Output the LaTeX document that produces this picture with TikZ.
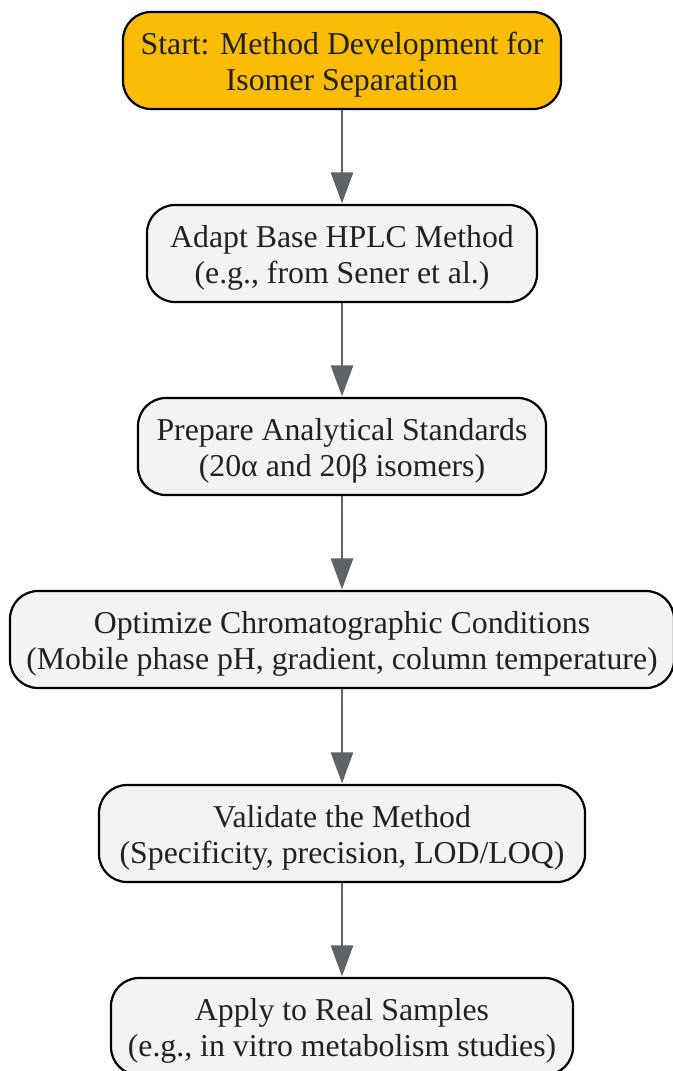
\documentclass[tikz,border=0pt]{standalone}
\usepackage{fontspec}
\setmainfont{Liberation Serif}
\usetikzlibrary{arrows.meta}
\definecolor{startfill}{HTML}{FBBC05}
\definecolor{boxfill}{HTML}{F1F3F4}
\definecolor{arrowcol}{HTML}{5F6368}
\definecolor{textcol}{HTML}{202124}
\tikzset{
  flowbox/.style={draw=black, line width=2.2bp, rounded corners=28bp, fill=boxfill,
    minimum height=97bp, inner sep=0pt, align=center, text=textcol,
    text height=67bp, text depth=7bp,
    font=\fontsize{31.8bp}{36bp}\selectfont},
  startbox/.style={flowbox, fill=startfill},
  flowarrow/.style={draw=arrowcol, line width=2.6bp,
    -{Triangle[length=31bp,width=22bp]}, shorten >=0.5bp}
}
\begin{document}
\begin{tikzpicture}[x=1bp,y=-1bp]
\useasboundingbox (0,0) rectangle (673,1071);
\clip (0,0) rectangle (673,1071);
\fill[white] (0,0) rectangle (673,1071);
\node[startbox, minimum width=438bp] (n1) at (342,60.5) {Start: Method Development for\\Isomer Separation};
\node[flowbox, minimum width=390bp] (n2) at (342,253.5) {Adapt Base HPLC Method\\(e.g., from Sener et al.)};
\node[flowbox, minimum width=408bp] (n3) at (342,446.5) {Prepare Analytical Standards\\(20α and 20β isomers)};
\node[flowbox, minimum width=664bp] (n4) at (342,639.5) {Optimize Chromatographic Conditions\\(Mobile phase pH, gradient, column temperature)};
\node[flowbox, minimum width=486bp] (n5) at (342,833.5) {Validate the Method\\(Specificity, precision, LOD/LOQ)};
\node[flowbox, minimum width=462bp] (n6) at (342,1026.5) {Apply to Real Samples\\(e.g., in vitro metabolism studies)};
\draw[flowarrow] (n1.south) -- (n2.north);
\draw[flowarrow] (n2.south) -- (n3.north);
\draw[flowarrow] (n3.south) -- (n4.north);
\draw[flowarrow] (n4.south) -- (n5.north);
\draw[flowarrow] (n5.south) -- (n6.north);
\end{tikzpicture}
\end{document}
